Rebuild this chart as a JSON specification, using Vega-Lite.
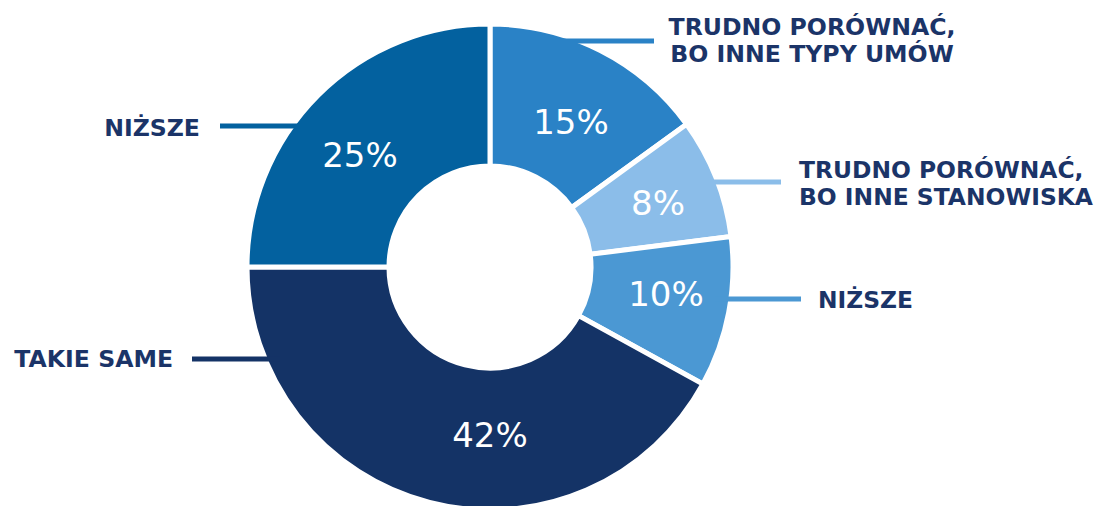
{
  "$schema": "https://vega.github.io/schema/vega-lite/v6.json",
  "width": 1099,
  "height": 506,
  "autosize": {"type": "none"},
  "padding": 0,
  "background": "white",
  "config": {"view": {"stroke": null}},
  "datasets": {
    "slices": [
      {"key": "umowy", "share": 15, "order": 1},
      {"key": "stanowiska", "share": 8, "order": 2},
      {"key": "nizsze_r", "share": 10, "order": 3},
      {"key": "takie_same", "share": 42, "order": 4},
      {"key": "nizsze_l", "share": 25, "order": 5}
    ],
    "notes": [
      {"key": "umowy", "pct": "15%", "px": 81, "py": 143, "label": "TRUDNO PORÓWNAĆ,\nBO INNE TYPY UMÓW", "side": "top", "lx": 322, "ly": 232, "x1": 70, "x2": 164, "ly2": 226},
      {"key": "stanowiska", "pct": "8%", "px": 168, "py": 62, "label": "TRUDNO PORÓWNAĆ,\nBO INNE STANOWISKA", "side": "right", "lx": 309, "ly": 89, "x1": 200, "x2": 291, "ly2": 85},
      {"key": "nizsze_r", "pct": "10%", "px": 176, "py": -29, "label": "NIŻSZE", "side": "right", "lx": 328, "ly": -41, "x1": 225, "x2": 311, "ly2": -32},
      {"key": "takie_same", "pct": "42%", "px": 0, "py": -170, "label": "TAKIE SAME", "side": "left", "lx": -317, "ly": -100, "x1": -298, "x2": -210, "ly2": -92},
      {"key": "nizsze_l", "pct": "25%", "px": -130, "py": 110, "label": "NIŻSZE", "side": "left", "lx": -290, "ly": 131, "x1": -270, "x2": -190, "ly2": 141}
    ]
  },
  "layer": [
    {
      "data": {"name": "slices"},
      "mark": {"type": "arc", "outerRadius": 243, "innerRadius": 101, "stroke": "white", "strokeWidth": 5},
      "encoding": {
        "x": {"datum": 0, "type": "quantitative", "scale": {"domain": [-490, 609], "nice": false, "zero": false}, "axis": null},
        "y": {"datum": 0, "type": "quantitative", "scale": {"domain": [-239, 267], "nice": false, "zero": false}, "axis": null},
        "theta": {"field": "share", "type": "quantitative", "stack": true},
        "order": {"field": "order", "type": "quantitative"},
        "color": {"field": "key", "type": "nominal", "legend": null,
          "scale": {"domain": ["umowy", "stanowiska", "nizsze_r", "takie_same", "nizsze_l"],
                    "range": ["#2a82c6", "#8bbde9", "#4b98d3", "#143366", "#03619f"]}}
      }
    },
    {
      "data": {"name": "notes"},
      "mark": {"type": "rule", "strokeWidth": 5},
      "encoding": {
        "x": {"field": "x1", "type": "quantitative", "scale": {"domain": [-490, 609], "nice": false, "zero": false}, "axis": null},
        "x2": {"field": "x2"},
        "y": {"field": "ly2", "type": "quantitative", "scale": {"domain": [-239, 267], "nice": false, "zero": false}, "axis": null},
        "color": {"field": "key", "type": "nominal", "legend": null}
      }
    },
    {
      "data": {"name": "notes"},
      "mark": {"type": "text", "font": "DejaVu Sans", "fontSize": 34, "color": "white", "align": "center", "baseline": "middle"},
      "encoding": {
        "x": {"field": "px", "type": "quantitative", "axis": null},
        "y": {"field": "py", "type": "quantitative", "axis": null},
        "text": {"field": "pct"}
      }
    },
    {
      "data": {"name": "notes"},
      "transform": [{"filter": "datum.side === 'right'"}],
      "mark": {"type": "text", "font": "DejaVu Sans", "fontWeight": "bold", "fontSize": 23.4, "color": "#1b3468", "align": "left", "baseline": "alphabetic", "lineBreak": "\n", "lineHeight": 27},
      "encoding": {
        "x": {"field": "lx", "type": "quantitative", "axis": null},
        "y": {"field": "ly", "type": "quantitative", "axis": null},
        "text": {"field": "label"}
      }
    },
    {
      "data": {"name": "notes"},
      "transform": [{"filter": "datum.side === 'left'"}],
      "mark": {"type": "text", "font": "DejaVu Sans", "fontWeight": "bold", "fontSize": 23.6, "color": "#1b3468", "align": "right", "baseline": "alphabetic", "lineBreak": "\n", "lineHeight": 27},
      "encoding": {
        "x": {"field": "lx", "type": "quantitative", "axis": null},
        "y": {"field": "ly", "type": "quantitative", "axis": null},
        "text": {"field": "label"}
      }
    },
    {
      "data": {"name": "notes"},
      "transform": [{"filter": "datum.side === 'top'"}],
      "mark": {"type": "text", "font": "DejaVu Sans", "fontWeight": "bold", "fontSize": 23.6, "color": "#1b3468", "align": "center", "baseline": "alphabetic", "lineBreak": "\n", "lineHeight": 27},
      "encoding": {
        "x": {"field": "lx", "type": "quantitative", "axis": null},
        "y": {"field": "ly", "type": "quantitative", "axis": null},
        "text": {"field": "label"}
      }
    }
  ]
}
